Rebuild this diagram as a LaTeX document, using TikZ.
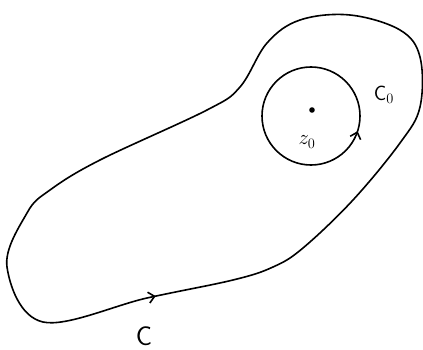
\documentclass[tikz,border=0pt]{standalone}
\usepackage{amsmath}
\usepackage{tikz}
\usetikzlibrary{
  arrows.meta,              % Straight Barb 箭头
  decorations.markings      % 曲线上的方向箭头
}

\begin{document}
\begin{tikzpicture}[x=1pt, y=1pt, line width=1.6pt,
    dirmark/.style={postaction={decorate}, decoration={markings,
      mark=at position #1 with {\arrow{Straight Barb[length=6pt, width=11pt]}}}}]
    % 画面大小
    \def\imgW{423}
    \def\imgH{349}
    \def\rad{49}
    \useasboundingbox (0, 0) rectangle (\imgW, \imgH);

    % --- 外围闭曲线 C ---
    \draw[dirmark=0.008] plot[smooth cycle, tension=0.6] coordinates {
      (43,27) (147,51) (233,69) (273,82) (303,101) (353,149) (400,206)
      (420,242) (420,292) (400,319) (350,334) (300,329) (267,306)
      (240,262) (207,239) (100,189) (50,159) (27,136) (7,82)};
    \node[font=\fontsize{27}{28}\selectfont\sffamily] (labC) at (144, 13) {C};

    % --- 小圆 C_0 及圆心 z_0 ---
    \coordinate (ctr) at (311, 233);
    \draw[dirmark=0.95] (ctr) circle[radius=\rad];
    \fill (ctr) ++(1, 6) circle[radius=2.8];
    \node[font=\huge] (labz) at (307, 207) {$z_0$};
    \node[font=\huge\sffamily] (labCo) at (384, 254) {C$_0$};

  \end{tikzpicture}
\end{document}
